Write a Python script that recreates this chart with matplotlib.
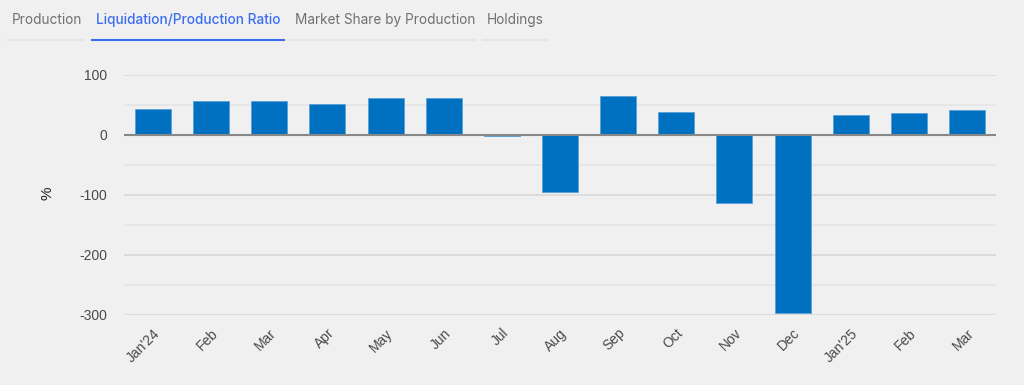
import matplotlib
matplotlib.use("Agg")
import matplotlib.pyplot as plt
from matplotlib.lines import Line2D

plt.rcParams['font.family'] = ['Inter', 'DejaVu Sans']

months = ["Jan'24", "Feb", "Mar", "Apr", "May", "Jun", "Jul", "Aug", "Sep",
          "Oct", "Nov", "Dec", "Jan'25", "Feb", "Mar"]
ratio = [43, 57, 57, 52, 62, 62, -2, -95, 65, 38, -114, -296, 33, 37, 42]
yticks = [100, 0, -100, -200, -300]
tabs = ["Production", "Liquidation/Production Ratio", "Market Share by Production", "Holdings"]

W, H = 1024, 385
bg = "#f0f0f0"
fig = plt.figure(figsize=(W / 100, H / 100), dpi=100, facecolor=bg)

# tabs
tab_x = [12, 96, 295, 487]
tab_under = [(8, 84), (92, 284), (290, 476), (483, 548)]
for i, (t, x) in enumerate(zip(tabs, tab_x)):
    active = i == 1
    fig.text(x / W, 1 - 20 / H, t, fontsize=9.8, va="center", ha="left",
             color="#3b6df0" if active else "#707070",
             fontweight="medium" if active else "normal")
    x0, x1 = tab_under[i]
    fig.add_artist(Line2D([x0 / W, x1 / W], [1 - 39.5 / H] * 2,
                          color="#3b6df0" if active else "#e4e4e4",
                          lw=1.5, transform=fig.transFigure))

ax = fig.add_axes([124 / W, (H - 315) / H, 872 / W, 240 / H], facecolor=bg)
x = list(range(len(months)))
ax.bar(x, ratio, width=0.62, color="#0070c0", edgecolor="#5aa0d8", linewidth=0.6, zorder=3)
ax.set_xlim(-0.5, len(months) - 0.5)
ax.set_ylim(-300, 100)

for v in range(-300, 101, 50):
    if v == 0:
        continue
    ax.axhline(v, color="#d8d8d8" if v % 100 == 0 else "#e4e4e4", lw=1.2, zorder=1)
ax.axhline(0, color="#888888", lw=1.5, zorder=4)

ax.set_yticks(yticks)
ax.set_yticklabels([str(v) for v in yticks], family=['Liberation Sans', 'DejaVu Sans'])
ax.set_xticks(x)
ax.set_xticklabels(months, rotation=45, ha="right", rotation_mode="anchor",
                   family=['Liberation Sans', 'DejaVu Sans'])
ax.tick_params(axis="both", length=0, labelsize=10, colors="#4a4a4a")
ax.tick_params(axis="y", pad=12)
ax.tick_params(axis="x", pad=8)
for s in ax.spines.values():
    s.set_visible(False)

fig.text(48 / W, 1 - 193 / H, "%", rotation=90, fontsize=11, color="#222222",
         va="center", ha="center", family=['Liberation Sans', 'DejaVu Sans'])

fig.savefig("out.png", dpi=100, facecolor=bg)
